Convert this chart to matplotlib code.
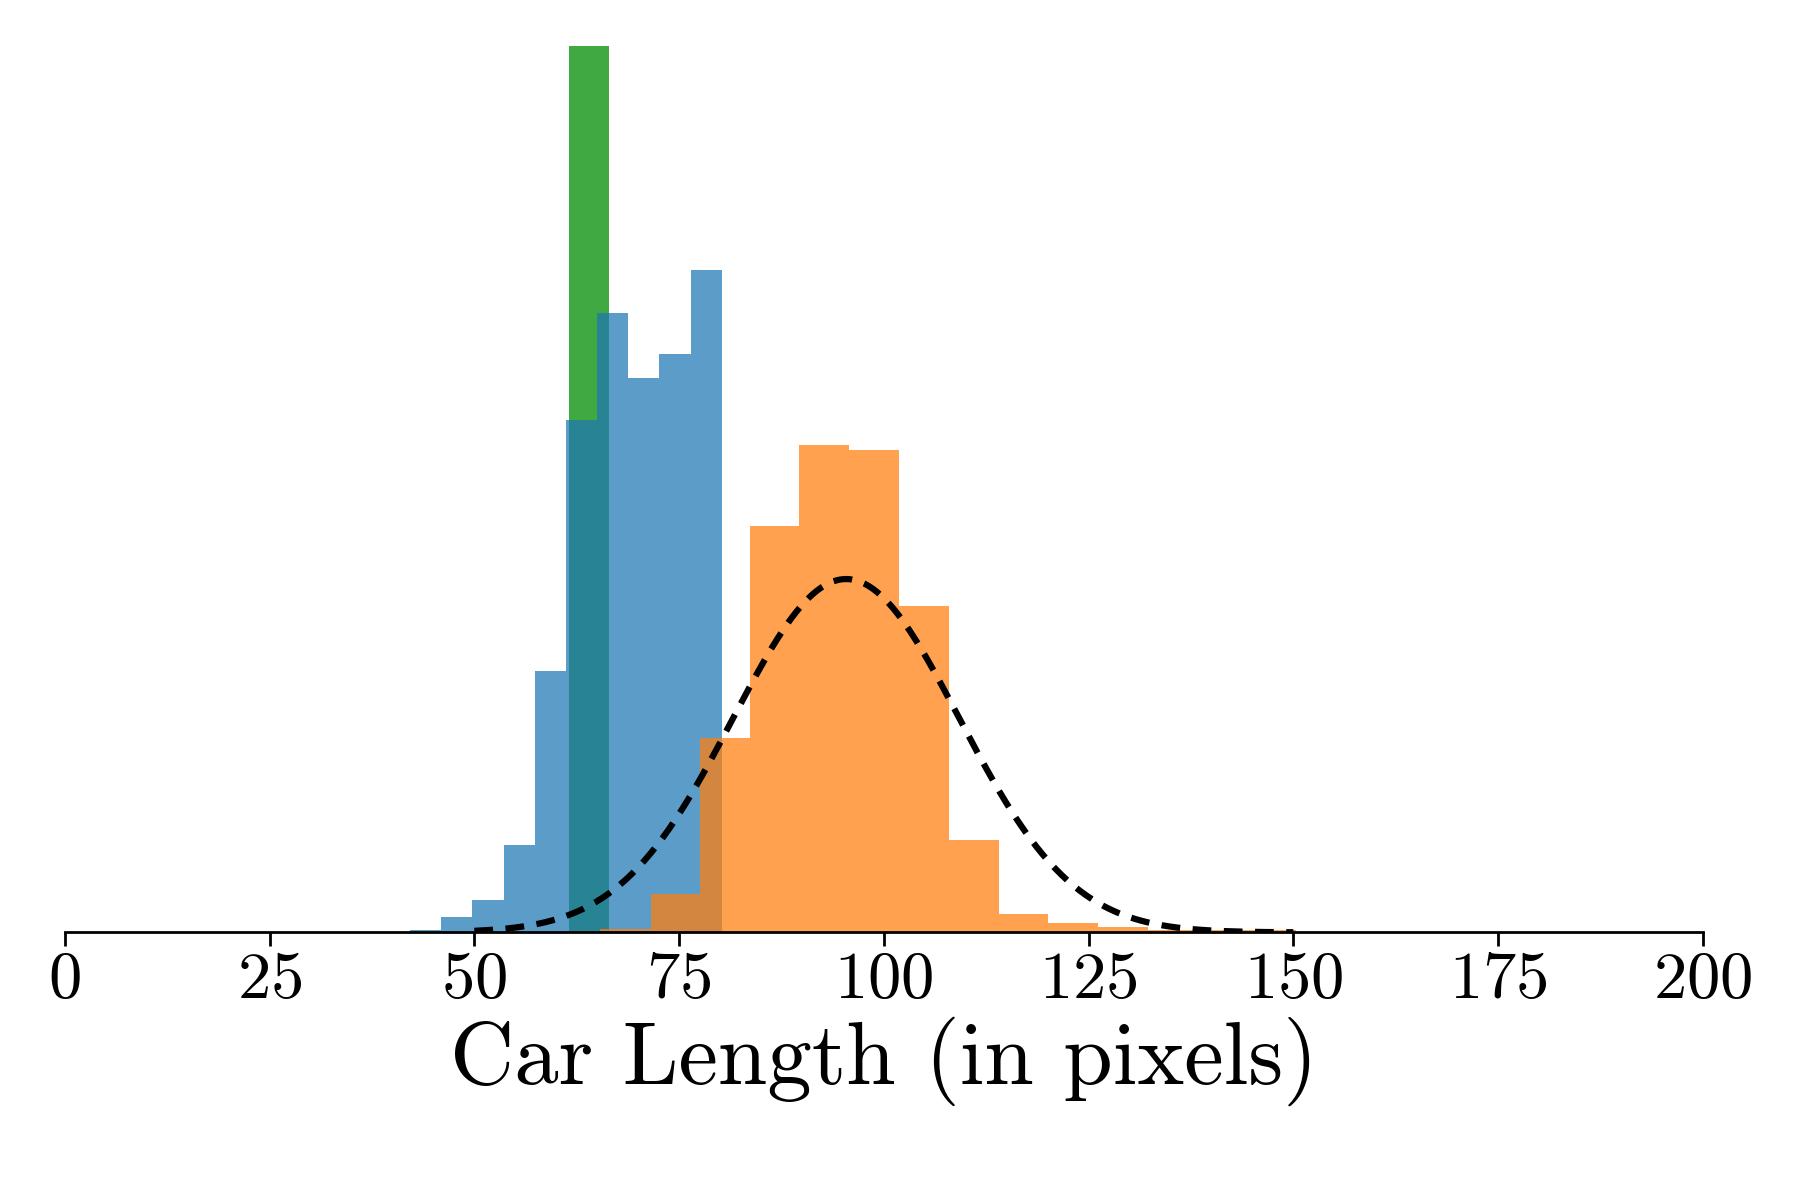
import numpy as np
import matplotlib
matplotlib.use("Agg")
import matplotlib.pyplot as plt

plt.rcParams['font.family'] = 'cmr10'
plt.rcParams['mathtext.fontset'] = 'cm'
plt.rcParams['axes.formatter.use_mathtext'] = True

blue_edges = [42.2, 45.9, 49.7, 53.6, 57.4, 61.2, 65.0, 68.8, 72.6, 76.4, 80.2]
blue_heights = [2, 13, 28, 76, 226, 444, 536, 480, 501, 574]
orange_edges = [65.4, 71.6, 77.6, 83.7, 89.7, 95.8, 101.9, 107.9, 114.0, 120.0, 126.1, 132.2, 138.2, 144.3, 150.3]
orange_heights = [3, 33, 168, 352, 422, 418, 283, 80, 16, 8, 5, 2, 2, 2]
green_edges = [61.6, 66.5]
green_heights = [768]
mu, sigma, peak = 95.4, 13.8, 306

fig = plt.figure(figsize=(18.01, 12), dpi=100)
ax = fig.add_axes([0.036, 0.223, 0.9095, 0.739])

def bars(edges, h, color, alpha):
    e = np.array(edges)
    ax.bar(e[:-1], h, width=np.diff(e), align='edge', color=color, alpha=alpha, linewidth=0)

bars(green_edges, green_heights, '#2ca02c', 0.9)
bars(blue_edges, blue_heights, '#1f77b4', 0.73)
bars(orange_edges, orange_heights, '#ff7f0e', 0.73)

x = np.linspace(50, 150, 400)
ax.plot(x, peak * np.exp(-0.5 * ((x - mu) / sigma) ** 2), 'k--', lw=4.5, dashes=(3, 2))

ax.set_xlim(0, 200)
ax.set_ylim(0, 768)
ax.set_xticks([0, 25, 50, 75, 100, 125, 150, 175, 200])
ax.set_yticks([])
for s in ['top', 'right', 'left']:
    ax.spines[s].set_visible(False)
ax.spines['bottom'].set_linewidth(2)
ax.tick_params(axis='x', labelsize=48, width=2, length=10)
ax.set_xlabel('Car Length (in pixels)', fontsize=64)
fig.savefig('out.png', dpi=100)
